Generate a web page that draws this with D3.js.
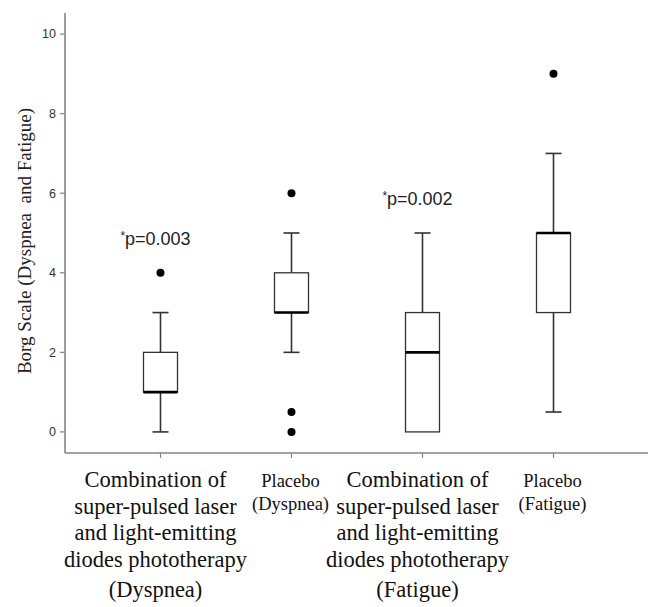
<!DOCTYPE html>
<html>
<head>
<meta charset="utf-8">
<script src="https://cdn.jsdelivr.net/npm/d3@7"></script>
<style>
  body { margin: 0; background: #fff; }
  svg { display: block; }
</style>
</head>
<body>
<svg id="chart" width="648" height="607"></svg>
<script>
const width = 648;
const height = 607;
const svg = d3.select("#chart");

// data
const groups = ["comboDyspnea", "placeboDyspnea", "comboFatigue", "placeboFatigue"];
const q1 = [1, 3, 0, 3];
const median = [1, 3, 2, 5];
const q3 = [2, 4, 3, 5];
const whiskerLow = [0, 2, 0, 0.5];
const whiskerHigh = [3, 5, 5, 7];
const outliers = [[4], [6, 0.5, 0], [], [9]];
const pLabels = ["p=0.003", "", "p=0.002", ""];
const yTicks = [0, 2, 4, 6, 8, 10];

const labelLines = [
  ["Combination of", "super-pulsed laser", "and light-emitting", "diodes phototherapy", "(Dyspnea)"],
  ["Placebo", "(Dyspnea)"],
  ["Combination of", "super-pulsed laser", "and light-emitting", "diodes phototherapy", "(Fatigue)"],
  ["Placebo", "(Fatigue)"]
];
const bigLabel = [true, false, true, false];

const boxes = groups.map((g, i) => ({
  key: g, q1: q1[i], median: median[i], q3: q3[i],
  lo: whiskerLow[i], hi: whiskerHigh[i], out: outliers[i], p: pLabels[i]
}));

const axisLeft = 65, axisBottom = 453, axisTop = 13;

const x = d3.scaleBand()
  .domain(groups)
  .range([95, 619]);

const y = d3.scaleLinear()
  .domain([-0.53, 10.53])
  .range([axisBottom, axisTop]);

const boxW = 34, capW = 16;
const cx = d => x(d) + x.bandwidth() / 2;
const axisColor = "#858585";
const ink = "#333";

// axes lines
svg.append("line")
  .attr("x1", axisLeft).attr("x2", axisLeft)
  .attr("y1", axisTop).attr("y2", axisBottom)
  .attr("stroke", axisColor).attr("stroke-width", 1.6);

svg.append("line")
  .attr("x1", axisLeft).attr("x2", width)
  .attr("y1", axisBottom).attr("y2", axisBottom)
  .attr("stroke", axisColor).attr("stroke-width", 1.6);

// y ticks
const yt = svg.append("g");
yt.selectAll("line")
  .data(yTicks)
  .join("line")
  .attr("x1", axisLeft - 5).attr("x2", axisLeft)
  .attr("y1", d => y(d)).attr("y2", d => y(d))
  .attr("stroke", axisColor).attr("stroke-width", 1.2);

yt.selectAll("text")
  .data(yTicks)
  .join("text")
  .attr("x", axisLeft - 9)
  .attr("y", d => y(d))
  .attr("dy", "0.35em")
  .attr("text-anchor", "end")
  .attr("font-family", "Liberation Sans, Arial, sans-serif")
  .attr("font-size", 12.5)
  .attr("fill", "#333")
  .text(d => d);

// x ticks
svg.selectAll("line.xtick")
  .data(groups)
  .join("line")
  .attr("class", "xtick")
  .attr("x1", d => cx(d)).attr("x2", d => cx(d))
  .attr("y1", axisBottom).attr("y2", axisBottom + 5)
  .attr("stroke", axisColor).attr("stroke-width", 1.2);

// y title
svg.append("text")
  .attr("transform", `translate(31, ${(axisTop + axisBottom) / 2 + 8}) rotate(-90)`)
  .attr("text-anchor", "middle")
  .attr("font-family", "Liberation Serif, Times New Roman, serif")
  .attr("font-size", 19)
  .attr("fill", "#222")
  .style("white-space", "pre")
  .text("Borg Scale (Dyspnea  and Fatigue)");

// boxplots
const bg = svg.selectAll("g.box")
  .data(boxes)
  .join("g")
  .attr("class", "box")
  .attr("transform", d => `translate(${cx(d.key)},0)`);

// whisker stems
bg.append("line")
  .attr("x1", 0).attr("x2", 0)
  .attr("y1", d => y(d.q3)).attr("y2", d => y(d.hi))
  .attr("stroke", ink).attr("stroke-width", 1.6);
bg.append("line")
  .attr("x1", 0).attr("x2", 0)
  .attr("y1", d => y(d.q1)).attr("y2", d => y(d.lo))
  .attr("stroke", ink).attr("stroke-width", 1.6);

// caps
bg.append("line")
  .attr("x1", -capW / 2).attr("x2", capW / 2)
  .attr("y1", d => y(d.hi)).attr("y2", d => y(d.hi))
  .attr("stroke", ink).attr("stroke-width", 1.6);
bg.filter(d => d.lo < d.q1).append("line")
  .attr("x1", -capW / 2).attr("x2", capW / 2)
  .attr("y1", d => y(d.lo)).attr("y2", d => y(d.lo))
  .attr("stroke", ink).attr("stroke-width", 1.6);

// box
bg.append("rect")
  .attr("x", -boxW / 2)
  .attr("width", boxW)
  .attr("y", d => y(d.q3))
  .attr("height", d => y(d.q1) - y(d.q3))
  .attr("fill", "#fff")
  .attr("stroke", ink)
  .attr("stroke-width", 1.3);

// median
bg.append("line")
  .attr("x1", -boxW / 2).attr("x2", boxW / 2)
  .attr("y1", d => y(d.median)).attr("y2", d => y(d.median))
  .attr("stroke", "#000").attr("stroke-width", 2.6);

// outliers
bg.selectAll("circle")
  .data(d => d.out)
  .join("circle")
  .attr("cx", 0)
  .attr("cy", v => y(v))
  .attr("r", 4)
  .attr("fill", "#000");

// p value annotations
const pt = bg.filter(d => d.p !== "").append("text")
  .attr("x", -5)
  .attr("y", d => y(d3.max([d.hi, ...d.out])) - 28)
  .attr("text-anchor", "middle")
  .attr("font-family", "Liberation Sans, Arial, sans-serif")
  .attr("font-size", 18)
  .attr("fill", "#222");
pt.append("tspan")
  .attr("font-size", 12)
  .attr("dy", -5)
  .text("*");
pt.append("tspan")
  .attr("dy", 5)
  .text(d => d.p);

// category labels
const lg = svg.selectAll("text.cat")
  .data(groups)
  .join("text")
  .attr("class", "cat")
  .attr("y", 487)
  .attr("text-anchor", "middle")
  .attr("font-family", "Liberation Serif, Times New Roman, serif")
  .attr("font-size", (d, i) => bigLabel[i] ? 22.5 : 18.5)
  .attr("fill", "#111");

lg.each(function(d, i) {
  const t = d3.select(this);
  const lines = labelLines[i];
  lines.forEach((ln, j) => {
    let dy = 0;
    if (j > 0) {
      if (bigLabel[i]) dy = (j === lines.length - 1) ? 30 : 26.5;
      else dy = 22.5;
    }
    t.append("tspan")
      .attr("x", cx(d) - (bigLabel[i] ? 5 : 1))
      .attr("dy", dy)
      .text(ln);
  });
});
</script>
</body>
</html>
